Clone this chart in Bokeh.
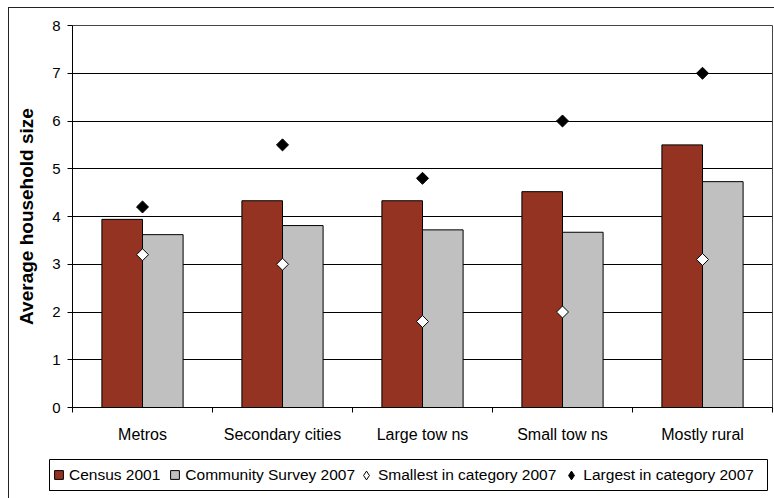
from bokeh.plotting import figure
from bokeh.models import (ColumnDataSource, Range1d, FixedTicker, Legend, LegendItem,
                          InlineStyleSheet)
from bokeh.layouts import column
from bokeh.transform import dodge
from bokeh.embed import file_html
from bokeh.resources import INLINE
import numpy as np

# Average household size by settlement type
categories = ["Metros", "Secondary cities", "Large tow ns", "Small tow ns", "Mostly rural"]
census_2001 = [3.94, 4.33, 4.33, 4.52, 5.50]
survey_2007 = [3.62, 3.81, 3.72, 3.67, 4.73]
smallest_2007 = [3.2, 3.0, 1.8, 2.0, 3.1]
largest_2007 = [4.2, 5.5, 4.8, 6.0, 7.0]
y_ticks = [0, 1, 2, 3, 4, 5, 6, 7, 8]
series_names = ["Census 2001", "Community Survey 2007",
                "Smallest in category 2007", "Largest in category 2007"]

FONT = "Liberation Sans"
RED = "#943321"
GREY = "#c0c0c0"

centers = np.arange(len(categories)) + 0.5
src = ColumnDataSource(dict(
    x=centers,
    census=census_2001,
    survey=survey_2007,
    smallest=smallest_2007,
    largest=largest_2007,
))

bar_w = 0.29
bar_style = dict(line_color="black", line_width=1)


def draw_series(fig, marker="square", angle=np.pi / 4, size=8.5):
    """Draw the four series into fig; returns their renderers."""
    r1 = fig.vbar(x=dodge("x", -bar_w / 2), top="census", width=bar_w, source=src,
                  fill_color=RED, **bar_style)
    r2 = fig.vbar(x=dodge("x", bar_w / 2), top="survey", width=bar_w, source=src,
                  fill_color=GREY, **bar_style)
    r3 = fig.scatter(x="x", y="smallest", source=src, marker=marker, angle=angle,
                     size=size, fill_color="white", line_color="black", line_width=1)
    r4 = fig.scatter(x="x", y="largest", source=src, marker=marker, angle=angle,
                     size=size, fill_color="black", line_color="black", line_width=1)
    return [r1, r2, r3, r4]


# ---- main chart -------------------------------------------------------------
p = figure(width=774, height=445, output_backend="svg", toolbar_location=None,
           x_range=Range1d(0, len(categories)), y_range=Range1d(0, 8),
           min_border_left=72, min_border_right=2, min_border_top=25,
           min_border_bottom=37)
p.frame_align = False
p.background_fill_color = "white"
p.border_fill_color = "white"
p.outline_line_color = "#444444"
p.outline_line_width = 1

draw_series(p)

p.xgrid.visible = False
p.ygrid.ticker = FixedTicker(ticks=y_ticks)
p.ygrid.grid_line_color = "black"
p.ygrid.grid_line_width = 1

p.yaxis.ticker = FixedTicker(ticks=y_ticks)
p.yaxis.axis_label = "Average household size"
p.yaxis.axis_label_text_font = FONT
p.yaxis.axis_label_text_font_style = "bold"
p.yaxis.axis_label_text_font_size = "19px"
p.yaxis.axis_label_text_color = "black"
p.yaxis.axis_label_standoff = 12
p.yaxis.major_label_text_font = FONT
p.yaxis.major_label_text_font_size = "15px"
p.yaxis.major_label_text_color = "black"
p.yaxis.major_label_standoff = 7
p.yaxis.major_tick_out = 5
p.yaxis.major_tick_in = 0
p.yaxis.minor_tick_line_color = None
p.yaxis.axis_line_color = "black"
p.yaxis.major_tick_line_color = "black"

# labels at category centres, tick marks at category boundaries
p.xaxis.ticker = FixedTicker(ticks=list(centers),
                             minor_ticks=list(range(len(categories) + 1)))
p.xaxis.major_label_overrides = {float(c): lab for c, lab in zip(centers, categories)}
p.xaxis.major_tick_line_color = None
p.xaxis.major_tick_out = 0
p.xaxis.major_tick_in = 0
p.xaxis.minor_tick_line_color = "black"
p.xaxis.minor_tick_out = 5
p.xaxis.minor_tick_in = 0
p.xaxis.axis_line_color = "black"
p.xaxis.major_label_text_font = FONT
p.xaxis.major_label_text_font_size = "16px"
p.xaxis.major_label_text_color = "black"
p.xaxis.major_label_standoff = 13

# ---- legend strip (series drawn out of view, only the key shows) ------------
lg = figure(width=774, height=53, output_backend="svg", toolbar_location=None,
            x_range=Range1d(100, 101), y_range=Range1d(100, 101),
            x_axis_type=None, y_axis_type=None,
            min_border_left=49, min_border_right=7, min_border_top=14,
            min_border_bottom=8)
lg.frame_align = False
lg.grid.visible = False
lg.background_fill_color = "white"
lg.border_fill_color = "white"
lg.outline_line_color = "black"
lg.outline_line_width = 1

keys = draw_series(lg, marker="diamond", angle=0.0)


def make_legend(items, loc, glyph, standoff, spacing):
    leg = Legend(items=[LegendItem(label=n, renderers=[r]) for n, r in items],
                 orientation="horizontal", location=loc)
    leg.label_text_font = FONT
    leg.label_text_font_size = "15.5px"
    leg.label_text_color = "black"
    leg.label_height = 20
    leg.glyph_width = glyph
    leg.glyph_height = glyph
    leg.label_standoff = standoff
    leg.spacing = spacing
    leg.padding = 0
    leg.margin = 0
    leg.border_line_color = None
    leg.background_fill_alpha = 0
    return leg


lg.add_layout(make_legend(list(zip(series_names[:2], keys[:2])),
                          (4, 5.5), 11, 5, 9), "center")
lg.add_layout(make_legend(list(zip(series_names[2:], keys[2:])),
                          (306, 4.5), 22, 1, 4), "center")

# outer chart-area border
frame_css = InlineStyleSheet(css="""
:host::after {
  content: "";
  position: absolute;
  left: 8px; top: 7px; right: -30px; bottom: -30px;
  border: 1.5px solid #222222;
  pointer-events: none;
}
""")

layout = column(p, lg, spacing=0, stylesheets=[frame_css])

open("out.html", "w").write(file_html(layout, INLINE))
